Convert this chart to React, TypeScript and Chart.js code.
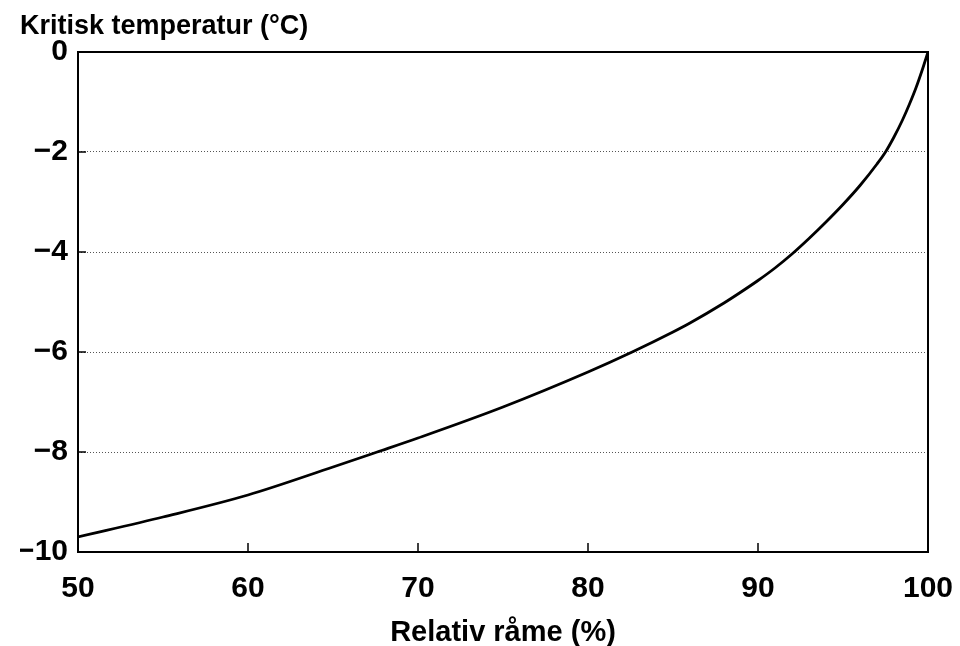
import React, { useEffect, useRef } from "react";
import { Chart, registerables } from "chart.js";

Chart.register(...registerables);

// Relative humidity (%) and critical temperature (°C)
const humidity = [50, 55, 60, 65, 67.6, 70, 75, 80, 82.6, 85, 86, 88, 89, 90, 91, 92, 93, 94, 95, 96, 97, 97.5, 98, 98.5, 98.9, 99.3, 99.65, 100];
const criticalTemp = [-9.7, -9.3, -8.86, -8.3, -8.0, -7.72, -7.1, -6.4, -6.0, -5.6, -5.42, -5.02, -4.8, -4.57, -4.32, -4.04, -3.73, -3.4, -3.05, -2.67, -2.24, -2.0, -1.7, -1.36, -1.05, -0.71, -0.37, 0];

const xTicks = [50, 60, 70, 80, 90, 100];
const yTicks = [0, -2, -4, -6, -8, -10];

const yTitle = "Kritisk temperatur (°C)";
const xTitle = "Relativ råme (%)";

const FONT = "'Liberation Sans', Arial, Helvetica, sans-serif";

const framePlugin = {
  id: "frame",
  afterDraw(chart: any) {
    const { ctx, chartArea } = chart;
    const xs = chart.scales.x;
    const ys = chart.scales.y;
    ctx.save();
    ctx.strokeStyle = "#000";
    ctx.lineWidth = 2;
    ctx.setLineDash([]);
    ctx.strokeRect(chartArea.left, chartArea.top, chartArea.right - chartArea.left, chartArea.bottom - chartArea.top);
    ctx.lineWidth = 1.5;
    ctx.beginPath();
    for (const v of xTicks) {
      if (v === xTicks[0] || v === xTicks[xTicks.length - 1]) continue;
      const px = xs.getPixelForValue(v);
      ctx.moveTo(px, chartArea.bottom);
      ctx.lineTo(px, chartArea.bottom - 9);
    }
    for (const v of yTicks) {
      if (v === yTicks[0] || v === yTicks[yTicks.length - 1]) continue;
      const py = ys.getPixelForValue(v);
      ctx.moveTo(chartArea.left, py);
      ctx.lineTo(chartArea.left + 8, py);
    }
    ctx.stroke();
    ctx.restore();
  },
};

export default function App() {
  const ref = useRef<HTMLCanvasElement | null>(null);

  useEffect(() => {
    if (!ref.current) return;
    const chart = new Chart(ref.current, {
      type: "scatter",
      data: {
        datasets: [
          {
            data: humidity.map((h, i) => ({ x: h, y: criticalTemp[i] })),
            showLine: true,
            borderColor: "#000",
            borderWidth: 2.8,
            pointRadius: 0,
            cubicInterpolationMode: "monotone",
            fill: false,
          },
        ],
      },
      options: {
        animation: false,
        responsive: true,
        maintainAspectRatio: false,
        layout: { padding: { left: 12, right: 24, top: 0, bottom: 0 } },
        plugins: {
          legend: { display: false },
          tooltip: { enabled: false },
          title: {
            display: true,
            text: yTitle,
            align: "start",
            color: "#000",
            font: { family: FONT, size: 27, weight: "bold", lineHeight: 1.2 },
            padding: { top: 2, bottom: 9.6 },
          },
        },
        scales: {
          x: {
            type: "linear",
            min: 50,
            max: 100,
            afterBuildTicks: (scale: any) => {
              scale.ticks = xTicks.map((v) => ({ value: v }));
            },
            afterFit: (scale: any) => {
              scale.height = 94;
              scale.paddingLeft = 0;
              scale.paddingRight = 0;
            },
            grid: { display: false, drawTicks: false },
            border: { display: false },
            ticks: {
              color: "#000",
              padding: 19,
              maxRotation: 0,
              font: { family: FONT, size: 30, weight: "bold", lineHeight: 1.2 },
            },
            title: {
              display: true,
              text: xTitle,
              color: "#000",
              font: { family: FONT, size: 29, weight: "bold", lineHeight: 1.2 },
              padding: { top: 0, bottom: -4 },
            },
          },
          y: {
            type: "linear",
            min: -10,
            max: 0,
            afterBuildTicks: (scale: any) => {
              scale.ticks = yTicks.map((v) => ({ value: v }));
            },
            afterFit: (scale: any) => {
              scale.width = 58;
              scale.paddingTop = 0;
              scale.paddingBottom = 0;
            },
            grid: {
              drawTicks: false,
              lineWidth: 1,
              color: (c: any) =>
                c.tick && (c.tick.value === 0 || c.tick.value === -10) ? "rgba(0,0,0,0)" : "#555",
            },
            border: { display: false, dash: [1, 2] },
            ticks: {
              color: "#000",
              padding: 10,
              font: { family: FONT, size: 30, weight: "bold", lineHeight: 1.2 },
              callback: (v: any) => (Number(v) < 0 ? "\u2212" + Math.abs(Number(v)) : String(v)),
            },
          },
        },
      },
      plugins: [framePlugin],
    });
    return () => chart.destroy();
  }, []);

  return (
    <div style={{ width: 944, height: 638 }}>
      <canvas ref={ref} />
    </div>
  );
}
